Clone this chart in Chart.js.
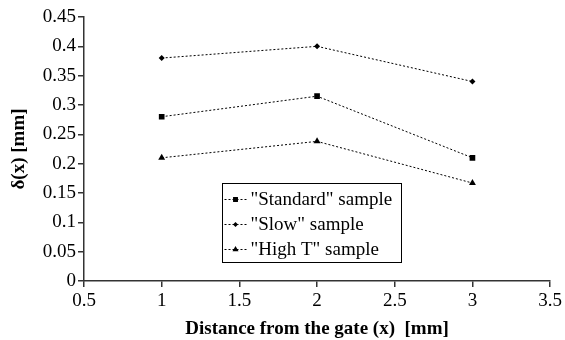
<!DOCTYPE html>
<html>
<head>
<meta charset="utf-8">
<script src="https://cdn.jsdelivr.net/npm/chart.js@4"></script>
<style>
html,body{margin:0;padding:0;background:#fff;}
#wrap{width:565px;height:340px;position:relative;}
</style>
</head>
<body>
<div id="wrap"><canvas id="c" width="565" height="340"></canvas></div>
<script>
const distances = [1, 2, 3];
const seriesNames = ['"Standard" sample', '"Slow" sample', '"High T" sample'];
const standardValues = [0.28, 0.315, 0.21];
const slowValues = [0.38, 0.40, 0.34];
const highTValues = [0.21, 0.238, 0.167];
const xTickLabels = ['0.5', '1', '1.5', '2', '2.5', '3', '3.5'];
const yTickLabels = ['0', '0.05', '0.1', '0.15', '0.2', '0.25', '0.3', '0.35', '0.4', '0.45'];
const xTitle = 'Distance from the gate (x)  [mm]';
const yTitle = 'δ(x) [mm]';

const FONT = "'Liberation Serif', 'Times New Roman', serif";
Chart.defaults.font.family = FONT;
Chart.defaults.font.size = 19;
Chart.defaults.color = '#000';

function pts(vals){ return distances.map((d,i)=>({x:d,y:vals[i]})); }

const styles = [
  {pointStyle:'rect', radius:4},
  {pointStyle:'rectRot', radius:3},
  {pointStyle:'triangle', radius:4}
];
const allValues = [standardValues, slowValues, highTValues];

const datasets = allValues.map((v,i)=>({
  label: seriesNames[i],
  data: pts(v),
  showLine: true,
  borderColor: '#000',
  backgroundColor: '#000',
  borderWidth: 1,
  borderDash: [2,2],
  pointStyle: styles[i].pointStyle,
  pointRadius: styles[i].radius,
  pointBorderWidth: 0,
  pointBackgroundColor: '#000',
  pointBorderColor: '#000'
}));

const legendBox = {
  id: 'legendBox',
  afterDraw(chart){
    const ctx = chart.ctx;
    const xs = chart.scales.x, ys = chart.scales.y;
    const left = xs.getPixelForValue(1.385), right = xs.getPixelForValue(2.54);
    const top = ys.getPixelForValue(0.167), bottom = ys.getPixelForValue(0.032);
    ctx.save();
    ctx.fillStyle = '#fff';
    ctx.fillRect(left, top, right-left, bottom-top);
    ctx.strokeStyle = '#000';
    ctx.lineWidth = 1;
    ctx.strokeRect(Math.round(left)+0.5, Math.round(top)+0.5, Math.round(right-left), Math.round(bottom-top));
    const rowH = (bottom-top)/3.2;
    chart.data.datasets.forEach((ds,i)=>{
      const y = Math.round(top + rowH*(i+0.66));
      ctx.strokeStyle = '#000';
      ctx.setLineDash([2,2]);
      ctx.lineWidth = 1;
      ctx.beginPath();
      ctx.moveTo(left+3, y+0.5);
      ctx.lineTo(left+26, y+0.5);
      ctx.stroke();
      ctx.setLineDash([]);
      ctx.fillStyle = '#000';
      Chart.helpers.drawPoint(ctx, {pointStyle: ds.pointStyle, radius: ds.pointRadius-0.5, borderWidth:0, rotation:0}, left+14, y+0.5);
      ctx.fillStyle = '#000';
      ctx.font = '19px ' + FONT;
      ctx.textBaseline = 'middle';
      ctx.textAlign = 'left';
      ctx.fillText(ds.label, left+29, y+1);
    });
    ctx.restore();
  }
};

new Chart(document.getElementById('c'), {
  type: 'scatter',
  data: { datasets },
  options: {
    responsive: false,
    animation: false,
    devicePixelRatio: 1,
    layout: { padding: { top: 17, right: 14, left: 8, bottom: 0 } },
    plugins: { legend: { display: false }, tooltip: { enabled: false } },
    scales: {
      x: {
        type: 'linear', min: 0.5, max: 3.5,
        afterFit(s){ s.height = 59; },
        border: { display: true, color: '#333', width: 1.5 },
        grid: { display: true, drawOnChartArea: false, drawTicks: true, tickLength: 6, color: '#333', lineWidth: 1.5 },
        ticks: {
          stepSize: 0.5, color: '#000', padding: 3,
          font: { family: FONT, size: 19 },
          maxRotation: 0,
          callback: (v) => xTickLabels[Math.round((v-0.5)/0.5)]
        },
        title: { display: true, text: xTitle, color: '#000', padding: {top: 2, bottom: 0}, font: { family: FONT, size: 19, weight: 'bold' } }
      },
      y: {
        type: 'linear', min: 0, max: 0.45,
        afterFit(s){ s.width = 76; },
        border: { display: true, color: '#333', width: 1.5 },
        grid: { display: true, drawOnChartArea: false, drawTicks: true, tickLength: 6, color: '#333', lineWidth: 1.5 },
        ticks: {
          stepSize: 0.05, color: '#000', padding: 2,
          font: { family: FONT, size: 19 },
          callback: (v) => yTickLabels[Math.round(v/0.05)]
        },
        title: { display: true, text: yTitle, color: '#000', padding: 0, font: { family: FONT, size: 19, weight: 'bold' } }
      }
    }
  },
  plugins: [legendBox]
});
</script>
</body>
</html>
